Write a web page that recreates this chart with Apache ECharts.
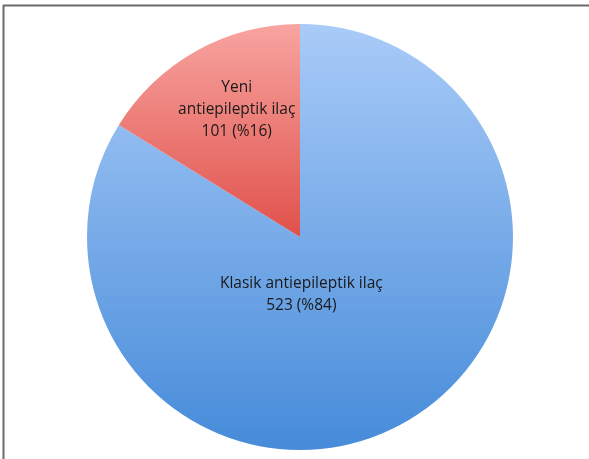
<!DOCTYPE html>
<html>
<head>
<meta charset="utf-8">
<script src="https://cdn.jsdelivr.net/npm/echarts@6/dist/echarts.min.js"></script>
<style>html,body{margin:0;padding:0;background:#fff}#c{width:589px;height:459px}</style>
</head>
<body>
<div id="c"></div>
<script>
var categories = ['Klasik antiepileptik ilaç', 'Yeni\nantiepileptik ilaç'];
var values = [523, 101];
var percents = ['%84', '%16'];

var gradients = [
  new echarts.graphic.LinearGradient(0, 0, 0, 1, [
    {offset: 0, color: '#a9cbf8'}, {offset: 1, color: '#468bd9'}
  ]),
  new echarts.graphic.LinearGradient(0, 0, 0, 1, [
    {offset: 0, color: '#f8a4a0'}, {offset: 1, color: '#e0514b'}
  ])
];
var labelOffsets = [[-52, -38], [-10, -32]];

var data = categories.map(function (c, i) {
  return {
    name: c,
    value: values[i],
    itemStyle: {color: gradients[i]},
    label: {offset: labelOffsets[i]}
  };
});

var chart = echarts.init(document.getElementById('c'), null, {renderer: 'canvas'});
chart.setOption({
  backgroundColor: '#ffffff',
  animation: false,
  graphic: [
    {type: 'line', shape: {x1: 3, y1: 5.5, x2: 589, y2: 5.5}, style: {stroke: '#6b6b6b', lineWidth: 2}},
    {type: 'line', shape: {x1: 3.5, y1: 5, x2: 3.5, y2: 459}, style: {stroke: '#6b6b6b', lineWidth: 2}}
  ],
  series: [{
    type: 'pie',
    center: [300, 237],
    radius: [0, 213],
    startAngle: 90,
    clockwise: true,
    silent: true,
    itemStyle: {borderWidth: 0},
    label: {
      show: true,
      position: 'inside',
      color: '#1a1a1a',
      fontFamily: 'Open Sans',
      fontSize: 15.5,
      lineHeight: 22,
      align: 'center',
      formatter: function (p) {
        return p.name + '\n' + p.value + ' (' + percents[p.dataIndex] + ')';
      }
    },
    labelLine: {show: false},
    data: data
  }]
});
</script>
</body>
</html>
